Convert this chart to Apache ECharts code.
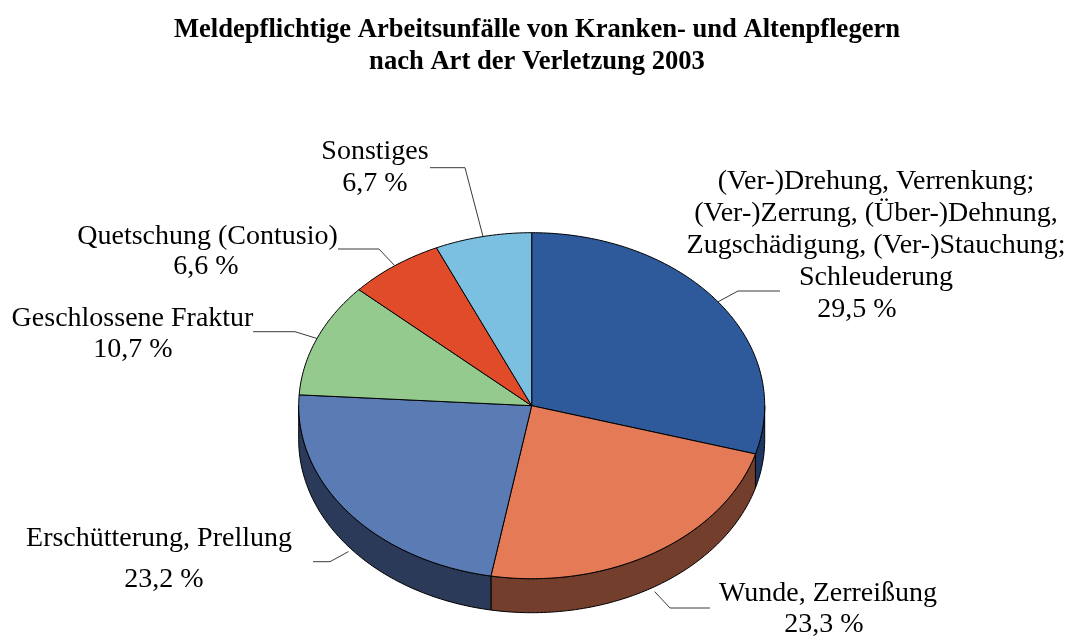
<!DOCTYPE html>
<html>
<head>
<meta charset="utf-8">
<style>
  html, body { margin: 0; padding: 0; background: #ffffff; }
  #chart { width: 1074px; height: 641px; }
</style>
<script src="https://cdn.jsdelivr.net/npm/echarts@6/dist/echarts.min.js"></script>
</head>
<body>
<div id="chart"></div>
<script>
// Injury types, in clockwise order starting at 12 o'clock
const categories = [
  '(Ver-)Drehung, Verrenkung;\n(Ver-)Zerrung, (Über-)Dehnung,\nZugschädigung, (Ver-)Stauchung;\nSchleuderung',
  'Wunde, Zerreißung',
  'Erschütterung, Prellung',
  'Geschlossene Fraktur',
  'Quetschung (Contusio)',
  'Sonstiges'
];
// Share of reportable accidents in percent
const shares = [29.5, 23.3, 23.2, 10.7, 6.6, 6.7];

const topColors  = ['#2E5A9C', '#E57A56', '#5A7BB3', '#94CA8E', '#E04C29', '#7BC0E0'];
const sideColors = ['#1E3762', '#733E2C', '#2B3A58', '#5C7E57', '#8A2F19', '#4C7A8E'];

const FONT = '"Liberation Serif", "Times New Roman", serif';
const LABEL_SIZE = 28;

// Geometry of the tilted disc
const PIE = { cx: 531.7, cy: 405.7, rx: 233, ry: 173, depth: 34 };

// Label placement: name centre, percent centre, horizontal leader start, elbow
const labelLayout = [
  { name: [876, 181.7], pct: [857, 310],   from: [780, 291],   elbow: [738, 291] },
  { name: [828, 593.3], pct: [824, 625],   from: [710, 608],   elbow: [670, 608] },
  { name: [159, 538.3], pct: [164, 580],   from: [313, 561.7], elbow: [330, 561.7] },
  { name: [132.5, 318.3], pct: [133, 350], from: [253, 331.7], elbow: [295, 331.7] },
  { name: [207.5, 236.7], pct: [206, 266.7], from: [338, 249], elbow: [379, 249] },
  { name: [375, 151.7], pct: [375, 183.3], from: [430, 167.7], elbow: [465, 167.7] }
];

const total = shares.reduce((a, b) => a + b, 0);
const startAngles = [];
{
  let acc = 0;
  shares.forEach(v => { startAngles.push(acc / total * Math.PI * 2); acc += v; });
}

function rim(theta, dy) {
  return [PIE.cx + PIE.rx * Math.sin(theta), PIE.cy - PIE.ry * Math.cos(theta) + (dy || 0)];
}
function arc(a, b, dy) {
  const pts = [];
  const n = Math.max(2, Math.ceil((b - a) / (Math.PI / 180)));
  for (let k = 0; k <= n; k++) pts.push(rim(a + (b - a) * k / n, dy));
  return pts;
}
function fmt(v) { return v.toFixed(1).replace('.', ',') + ' %'; }

function renderItem(params, api) {
  const i = params.dataIndex;
  const a = startAngles[i];
  const b = a + api.value(0) / total * Math.PI * 2;
  const children = [];

  // front wall, only where the rim faces the viewer
  const wa = Math.max(a, Math.PI / 2);
  const wb = Math.min(b, Math.PI * 1.5);
  if (wa < wb) {
    const top = arc(wa, wb, 0);
    const bottom = arc(wa, wb, PIE.depth).reverse();
    children.push({
      type: 'polygon',
      z2: 1,
      shape: { points: top.concat(bottom) },
      style: { fill: sideColors[i], stroke: '#000', lineWidth: 1, lineJoin: 'round' }
    });
  }

  // top face
  children.push({
    type: 'polygon',
    z2: 2,
    shape: { points: [[PIE.cx, PIE.cy]].concat(arc(a, b, 0)) },
    style: { fill: topColors[i], stroke: '#000', lineWidth: 1, lineJoin: 'round' }
  });

  // leader line and labels
  const mid = (a + b) / 2;
  const front = Math.cos(mid) < 0;
  const end = rim(mid, front ? PIE.depth + 5 : 0);
  const lay = labelLayout[i];
  children.push({
    type: 'polyline',
    z2: 3,
    shape: { points: [lay.from, lay.elbow, end] },
    style: { stroke: '#3a3a3a', lineWidth: 1, fill: null }
  });
  children.push({
    type: 'text',
    z2: 3,
    x: lay.name[0],
    y: lay.name[1] - 16,
    style: {
      text: categories[i],
      fontFamily: FONT,
      fontSize: LABEL_SIZE,
      fill: '#000',
      align: 'center',
      verticalAlign: 'top',
      lineHeight: 32
    }
  });
  children.push({
    type: 'text',
    z2: 3,
    x: lay.pct[0],
    y: lay.pct[1] - 16,
    style: {
      text: fmt(api.value(0)),
      fontFamily: FONT,
      fontSize: LABEL_SIZE,
      fill: '#000',
      align: 'center',
      verticalAlign: 'top',
      lineHeight: 32
    }
  });
  return { type: 'group', children: children };
}

const chart = echarts.init(document.getElementById('chart'), null, { renderer: 'canvas' });
chart.setOption({
  backgroundColor: '#ffffff',
  animation: false,
  title: {
    text: 'Meldepflichtige Arbeitsunfälle von Kranken- und Altenpflegern\nnach Art der Verletzung 2003',
    left: 'center',
    top: 9,
    textStyle: {
      fontFamily: FONT,
      fontWeight: 'bold',
      fontSize: 26.6,
      lineHeight: 32,
      color: '#000'
    }
  },
  series: [{
    type: 'custom',
    coordinateSystem: 'none',
    renderItem: renderItem,
    data: shares.map((v, i) => ({ name: categories[i], value: v }))
  }]
});
</script>
</body>
</html>
